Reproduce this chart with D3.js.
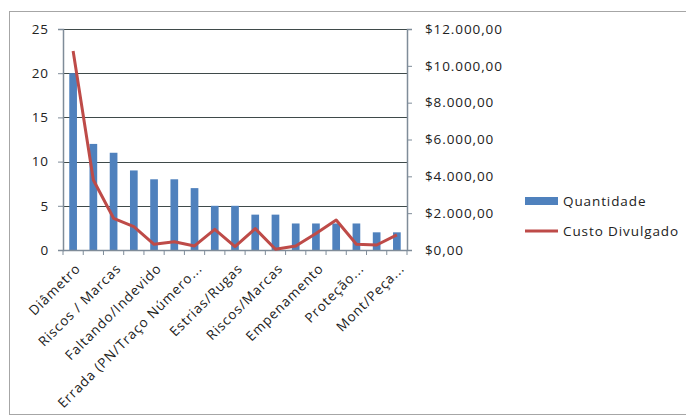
<!DOCTYPE html>
<html>
<head>
<meta charset="utf-8">
<script src="https://cdn.jsdelivr.net/npm/d3@7"></script>
<style>
  html, body { margin: 0; padding: 0; background: #fff; }
  svg { display: block; }
  text { font-family: "Open Sans", "DejaVu Sans", sans-serif; fill: #222; letter-spacing: 0.9px; }
</style>
</head>
<body>
<svg id="chart" width="686" height="418"></svg>
<script>
// Defect categories (Pareto order)
const categories = [
  "Diâmetro", "c2", "Riscos / Marcas", "c4", "Faltando/Indevido", "c6",
  "Errada (PN/Traço Número...", "c8", "Estrias/Rugas", "c10", "Riscos/Marcas",
  "c12", "Empenamento", "c14", "Proteção...", "c16", "Mont/Peça..."
];
// Which category names are printed on the axis
const shownLabels = [
  "Diâmetro", "", "Riscos / Marcas", "", "Faltando/Indevido", "",
  "Errada (PN/Traço Número...", "", "Estrias/Rugas", "", "Riscos/Marcas",
  "", "Empenamento", "", "Proteção...", "", "Mont/Peça..."
];
const quantidade = [20, 12, 11, 9, 8, 8, 7, 5, 5, 4, 4, 3, 3, 3, 3, 2, 2];
const custo = [10800, 3800, 1720, 1270, 310, 450, 220, 1120, 180, 1160, 40, 220, 900, 1630, 310, 270, 820];
const leftTicks = [0, 5, 10, 15, 20, 25];
const rightTicks = [0, 2000, 4000, 6000, 8000, 10000, 12000];
const seriesNames = ["Quantidade", "Custo Divulgado"];

const svg = d3.select("#chart");
const plot = { left: 63, right: 407, top: 29, bottom: 250 };
const barColor = "#4F81BD";
const lineColor = "#BE4B48";
const axisColor = "#7f8c99";
const fontSize = 13.5;

// outer chart frame
svg.append("rect")
  .attr("x", 9.5).attr("y", 11.5)
  .attr("width", 690).attr("height", 403)
  .attr("fill", "#fff").attr("stroke", "#a6a6a6").attr("stroke-width", 1);

const x = d3.scaleBand().domain(categories).range([plot.left, plot.right]).paddingInner(0.62).paddingOuter(0.31);
const yL = d3.scaleLinear().domain([0, 25]).range([plot.bottom, plot.top]);
const yR = d3.scaleLinear().domain([0, 12000]).range([plot.bottom, plot.top]);

// horizontal gridlines
svg.append("g").selectAll("line").data(leftTicks).join("line")
  .attr("x1", plot.left).attr("x2", plot.right)
  .attr("y1", d => Math.round(yL(d)) + 0.5).attr("y2", d => Math.round(yL(d)) + 0.5)
  .attr("stroke", "#3f4a4a").attr("stroke-width", 1.2);

// bars
svg.append("g").selectAll("rect").data(quantidade).join("rect")
  .attr("x", (d, i) => x(categories[i]))
  .attr("y", d => yL(d))
  .attr("width", x.bandwidth())
  .attr("height", d => yL(0) - yL(d))
  .attr("fill", barColor);

// left axis
const axL = svg.append("g").attr("transform", `translate(${plot.left},0)`)
  .call(d3.axisLeft(yL).tickValues(leftTicks).tickSize(5).tickPadding(9));
// right axis, currency in pt-BR style
const brl = d => "$" + d3.format(",.2f")(d).replace(/,/g, "#").replace(".", ",").replace(/#/g, ".");
const axR = svg.append("g").attr("transform", `translate(${plot.right},0)`)
  .call(d3.axisRight(yR).tickValues(rightTicks).tickSize(5).tickPadding(13).tickFormat(brl));
[axL, axR].forEach(a => {
  a.select(".domain").attr("stroke", axisColor).attr("stroke-width", 1.5);
  a.selectAll(".tick line").attr("stroke", axisColor);
  a.selectAll("text").attr("font-size", fontSize).attr("fill", "#222")
    .style("font-family", '"Open Sans", "DejaVu Sans", sans-serif');
});

// bottom axis: ticks between categories
const tickXs = d3.range(categories.length + 1).map(i => plot.left + i * (plot.right - plot.left) / categories.length);
svg.append("line").attr("x1", plot.left).attr("x2", plot.right)
  .attr("y1", plot.bottom + 0.5).attr("y2", plot.bottom + 0.5)
  .attr("stroke", axisColor).attr("stroke-width", 1.5);
svg.append("g").selectAll("line").data(tickXs).join("line")
  .attr("x1", d => d).attr("x2", d => d)
  .attr("y1", plot.bottom).attr("y2", plot.bottom + 5)
  .attr("stroke", axisColor);

// category labels, rotated
svg.append("g").selectAll("text").data(shownLabels).join("text")
  .attr("transform", (d, i) => `translate(${x(categories[i]) + x.bandwidth() / 2 + 5},${plot.bottom + 16}) rotate(-45)`)
  .attr("text-anchor", "end")
  .attr("dy", "0.35em")
  .attr("font-size", fontSize)
  .text(d => d);

// cost line on secondary axis
const line = d3.line()
  .x((d, i) => x(categories[i]) + x.bandwidth() / 2)
  .y(d => yR(d));
svg.append("path").datum(custo)
  .attr("d", line)
  .attr("fill", "none")
  .attr("stroke", lineColor)
  .attr("stroke-width", 3)
  .attr("stroke-linejoin", "round");

// legend
const lg = svg.append("g").attr("transform", "translate(525,0)");
lg.append("rect").attr("x", 0).attr("y", 197).attr("width", 33).attr("height", 8).attr("fill", barColor);
lg.append("text").attr("x", 38).attr("y", 201).attr("dy", "0.35em").attr("font-size", fontSize).text(seriesNames[0]);
lg.append("line").attr("x1", 0).attr("x2", 33).attr("y1", 231).attr("y2", 231)
  .attr("stroke", lineColor).attr("stroke-width", 3);
lg.append("text").attr("x", 38).attr("y", 231).attr("dy", "0.35em").attr("font-size", fontSize).text(seriesNames[1]);
</script>
</body>
</html>
